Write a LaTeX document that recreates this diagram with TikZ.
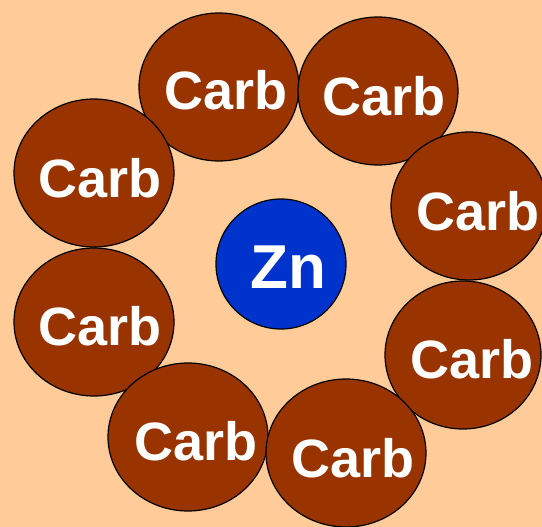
\documentclass[tikz,border=0pt]{standalone}
\usepackage{xcolor}
\usepackage{tikz}
\usepackage{fontspec}
\setmainfont{Liberation Sans}
\definecolor{ringPeach}{HTML}{FFCC99}
\definecolor{ringBrown}{HTML}{993300}
\definecolor{ringBlue}{HTML}{0033CC}
\definecolor{ringWhite}{HTML}{FFFFFF}
\usetikzlibrary{shapes.geometric,positioning}

\begin{document}
\begin{tikzpicture}[
  x=1pt, y=-1pt,
  carbshape/.style={
    ellipse,
    draw=black,
    line width=1.2pt,
    fill=ringBrown,
    minimum width=160pt,
    minimum height=148pt,
    inner sep=0pt
  },
  carbtext/.style={font=\fontsize{54}{60}\selectfont\bfseries, text=ringWhite, inner sep=0pt},
  zincshape/.style={
    circle,
    draw=black,
    line width=1.2pt,
    fill=ringBlue,
    minimum size=130pt,
    inner sep=0pt
  },
  zinctext/.style={font=\fontsize{62}{68}\selectfont\bfseries, text=ringWhite, inner sep=0pt}
]

\fill[ringPeach] (0,0) rectangle (542,527);
\useasboundingbox (0,0) rectangle (542,527);

% Ring
\node[carbshape] (ctl) at (219,87) {};
\node[carbshape] (ctr) at (378,91) {};
\node[carbshape] (clu) at (94,173) {};
\node[carbshape, minimum width=156pt] (cru) at (469,206) {};
\node[carbshape] (cll) at (94,322) {};
\node[carbshape, minimum width=156pt] (crl) at (463,355) {};
\node[carbshape] (cbl) at (188,437) {};
\node[carbshape] (cbr) at (346,453) {};

% Labels
\node[carbtext] (ctl-t) at (226,90) {Carb};
\node[carbtext] (ctr-t) at (384,96) {Carb};
\node[carbtext] (clu-t) at (100,178) {Carb};
\node[carbtext] (cru-t) at (478,211) {Carb};
\node[carbtext] (cll-t) at (100,326) {Carb};
\node[carbtext] (crl-t) at (472,359) {Carb};
\node[carbtext] (cbl-t) at (196,441) {Carb};
\node[carbtext] (cbr-t) at (353,458) {Carb};

% Centre
\node[zincshape] (zn) at (281,264) {};
\node[zinctext] (zn-t) at (288,267) {Zn};

\end{tikzpicture}
\end{document}
